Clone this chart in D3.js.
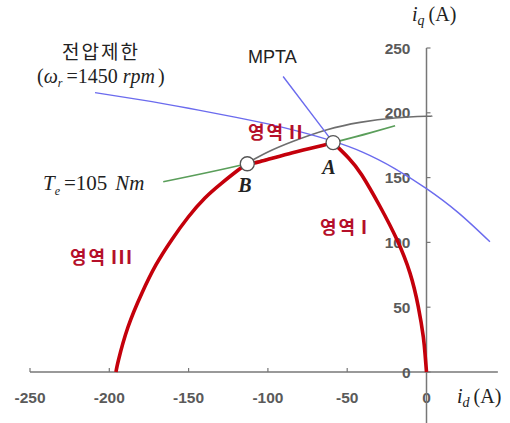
<!DOCTYPE html>
<html>
<head>
<meta charset="utf-8">
<script src="https://cdn.jsdelivr.net/npm/d3@7"></script>
<style>
  body { margin: 0; background: #fff; }
  svg { display: block; }
  .tick-lbl { font-family: "Liberation Sans", Arial, sans-serif; font-size: 15.5px; font-weight: bold; fill: #5a5a5a; }
  .kor { font-family: "Noto Sans CJK KR", sans-serif; }
  .serif { font-family: "Liberation Serif", "Times New Roman", serif; }
</style>
</head>
<body>
<script>
const width = 510;
const height = 423;

// tick values
const xTicks = [-250, -200, -150, -100, -50, 0];
const yTicks = [0, 50, 100, 150, 200, 250];

// curves as [id, iq] pairs
const currentLimit = [[-113, 161.2], [-100, 169.7], [-84, 178], [-62.7, 186.9], [-41.9, 192.6], [-20, 196], [0, 197.3], [3, 197.4]];
const torqueLine = [[-166, 146.8], [-113, 160.7], [-58.9, 177], [-35.6, 184.5], [-19.8, 190]];
const voltageLimit = [[-209, 215.6], [-180, 210], [-150, 203.5], [-120, 196.5], [-100, 191.5], [-80, 185.5], [-60, 178.5], [-40, 169.5], [-20, 157], [0, 141.5], [20, 123], [40, 100.5]];
const mtpaLine = [[-90.4, 228], [-64, 185.5], [-58.9, 177]];
const region1 = [[0, 0], [-0.8, 12], [-2, 27], [-5.2, 50.5], [-10.4, 76.3], [-18.6, 102], [-29.3, 127.7], [-40.8, 152], [-49, 165], [-58.9, 177]];
const region2 = [[-58.9, 177], [-65.6, 174.8], [-84.5, 169.2], [-105.2, 162.3], [-113, 160.7]];
const region3 = [[-113, 160.7], [-118.7, 155.9], [-129.1, 145.8], [-139.7, 134.3], [-150.2, 119.6], [-160.7, 101.9], [-170.6, 82.6], [-179.4, 61], [-188.2, 34.7], [-194.2, 9.3], [-195.8, 0]];
const points = [{ name: 'A', id: -58.9, iq: 177 }, { name: 'B', id: -113, iq: 160.7 }];

const svg = d3.select('body').append('svg')
    .attr('width', width)
    .attr('height', height);

const x = d3.scaleLinear().domain([-250, 0]).range([30, 426.5]);
const y = d3.scaleLinear().domain([0, 250]).range([372, 48]);

const axisColor = '#777';

// x axis
const xa = svg.append('g');
xa.append('line')
    .attr('x1', x(-250)).attr('x2', x(45))
    .attr('y1', y(0)).attr('y2', y(0))
    .attr('stroke', axisColor).attr('stroke-width', 1.5);
xa.selectAll('.xt').data(xTicks).enter().append('line')
    .attr('x1', d => x(d)).attr('x2', d => x(d))
    .attr('y1', y(0)).attr('y2', y(0) - 4)
    .attr('stroke', axisColor).attr('stroke-width', 1.2);
xa.selectAll('.xl').data(xTicks).enter().append('text')
    .attr('class', 'tick-lbl')
    .attr('x', d => x(d)).attr('y', y(0) + 31)
    .attr('text-anchor', 'middle')
    .text(d => d);

// y axis
const ya = svg.append('g');
ya.append('line')
    .attr('x1', x(0)).attr('x2', x(0))
    .attr('y1', y(250)).attr('y2', height)
    .attr('stroke', axisColor).attr('stroke-width', 1.5);
ya.selectAll('.yt').data(yTicks).enter().append('line')
    .attr('x1', x(0)).attr('x2', x(0) + 4)
    .attr('y1', d => y(d)).attr('y2', d => y(d))
    .attr('stroke', axisColor).attr('stroke-width', 1.2);
ya.selectAll('.yl').data(yTicks).enter().append('text')
    .attr('class', 'tick-lbl')
    .attr('x', x(0) - 16).attr('y', d => y(d) + 5.5)
    .attr('text-anchor', 'end')
    .text(d => d);

// axis titles
const idT = svg.append('text').attr('class', 'serif').attr('x', 457).attr('y', 403).attr('font-size', 20).attr('fill', '#222');
idT.append('tspan').attr('font-style', 'italic').text('i');
idT.append('tspan').attr('font-style', 'italic').attr('font-size', 14).attr('dy', 4).text('d');
idT.append('tspan').attr('dy', -4).attr('dx', 4).text('(A)');

const iqT = svg.append('text').attr('class', 'serif').attr('x', 412).attr('y', 21).attr('font-size', 20).attr('fill', '#222');
iqT.append('tspan').attr('font-style', 'italic').text('i');
iqT.append('tspan').attr('font-style', 'italic').attr('font-size', 14).attr('dy', 4).text('q');
iqT.append('tspan').attr('dy', -4).attr('dx', 4).text('(A)');

// curves
const line = d3.line()
    .x(d => x(d[0]))
    .y(d => y(d[1]))
    .curve(d3.curveNatural);

const straight = d3.line()
    .x(d => x(d[0]))
    .y(d => y(d[1]));

svg.append('path').datum(currentLimit).attr('d', line)
    .attr('fill', 'none').attr('stroke', '#6e6e6e').attr('stroke-width', 1.6);
svg.append('path').datum(torqueLine).attr('d', line)
    .attr('fill', 'none').attr('stroke', '#5a9e5a').attr('stroke-width', 1.6);
svg.append('path').datum(voltageLimit).attr('d', line)
    .attr('fill', 'none').attr('stroke', '#6b6bee').attr('stroke-width', 1.4);
svg.append('path').datum(mtpaLine).attr('d', straight)
    .attr('fill', 'none').attr('stroke', '#6b6bee').attr('stroke-width', 1.4);

[region1, region2, region3].forEach(r => {
    svg.append('path').datum(r).attr('d', line)
        .attr('fill', 'none').attr('stroke', '#c4000b')
        .attr('stroke-width', 3.6).attr('stroke-linejoin', 'round');
});

// operating points
svg.selectAll('.pt').data(points).enter().append('circle')
    .attr('cx', d => x(d.id)).attr('cy', d => y(d.iq))
    .attr('r', 7)
    .attr('fill', '#fff').attr('stroke', '#555').attr('stroke-width', 1.3);

svg.append('text').attr('class', 'serif')
    .attr('x', 329).attr('y', 174).attr('text-anchor', 'middle')
    .attr('font-size', 20).attr('font-weight', 'bold').attr('font-style', 'italic').attr('fill', '#222')
    .text('A');
svg.append('text').attr('class', 'serif')
    .attr('x', 245).attr('y', 192).attr('text-anchor', 'middle')
    .attr('font-size', 20).attr('font-weight', 'bold').attr('font-style', 'italic').attr('fill', '#222')
    .text('B');

// labels
svg.append('text').attr('class', 'kor')
    .attr('x', 101).attr('y', 59).attr('text-anchor', 'middle')
    .attr('font-size', 19).attr('letter-spacing', 2).attr('fill', '#222')
    .text('전압제한');

const wr = svg.append('text').attr('class', 'serif')
    .attr('x', 37).attr('y', 83).attr('font-size', 20).attr('fill', '#222');
wr.append('tspan').text('(');
wr.append('tspan').attr('font-style', 'italic').text('ω');
wr.append('tspan').attr('font-style', 'italic').attr('font-size', 12).attr('dy', 4).text('r');
wr.append('tspan').attr('dy', -4).attr('dx', 4).text('=1450');
wr.append('tspan').attr('dx', 5).attr('font-style', 'italic').text('rpm');
wr.append('tspan').attr('dx', 3).text(')');

svg.append('text')
    .attr('x', 248).attr('y', 63)
    .attr('font-family', '"Liberation Sans", Arial, sans-serif')
    .attr('font-size', 18).attr('fill', '#222')
    .text('MPTA');

const te = svg.append('text').attr('class', 'serif')
    .attr('x', 43).attr('y', 190).attr('font-size', 21).attr('fill', '#222');
te.append('tspan').attr('font-style', 'italic').text('T');
te.append('tspan').attr('font-style', 'italic').attr('font-size', 12).attr('dy', 5).text('e');
te.append('tspan').attr('dy', -5).attr('dx', 4).text('=105');
te.append('tspan').attr('dx', 8).attr('font-style', 'italic').text('Nm');

const regionLabels = [
    { k: '영역', n: 'II', x: 248, y: 139 },
    { k: '영역', n: 'I', x: 320, y: 234 },
    { k: '영역', n: 'III', x: 70, y: 264 }
];
const rl = svg.selectAll('.rl').data(regionLabels).enter().append('text')
    .attr('class', 'kor')
    .attr('x', d => d.x).attr('y', d => d.y)
    .attr('font-size', 18).attr('font-weight', 'bold').attr('fill', '#b5102a');
rl.append('tspan').attr('letter-spacing', 2).text(d => d.k);
rl.append('tspan').attr('dx', 4)
    .attr('font-family', '"Liberation Sans", Arial, sans-serif')
    .attr('font-size', 20).attr('font-weight', 'bold').attr('letter-spacing', 2)
    .text(d => d.n);
</script>
</body>
</html>
